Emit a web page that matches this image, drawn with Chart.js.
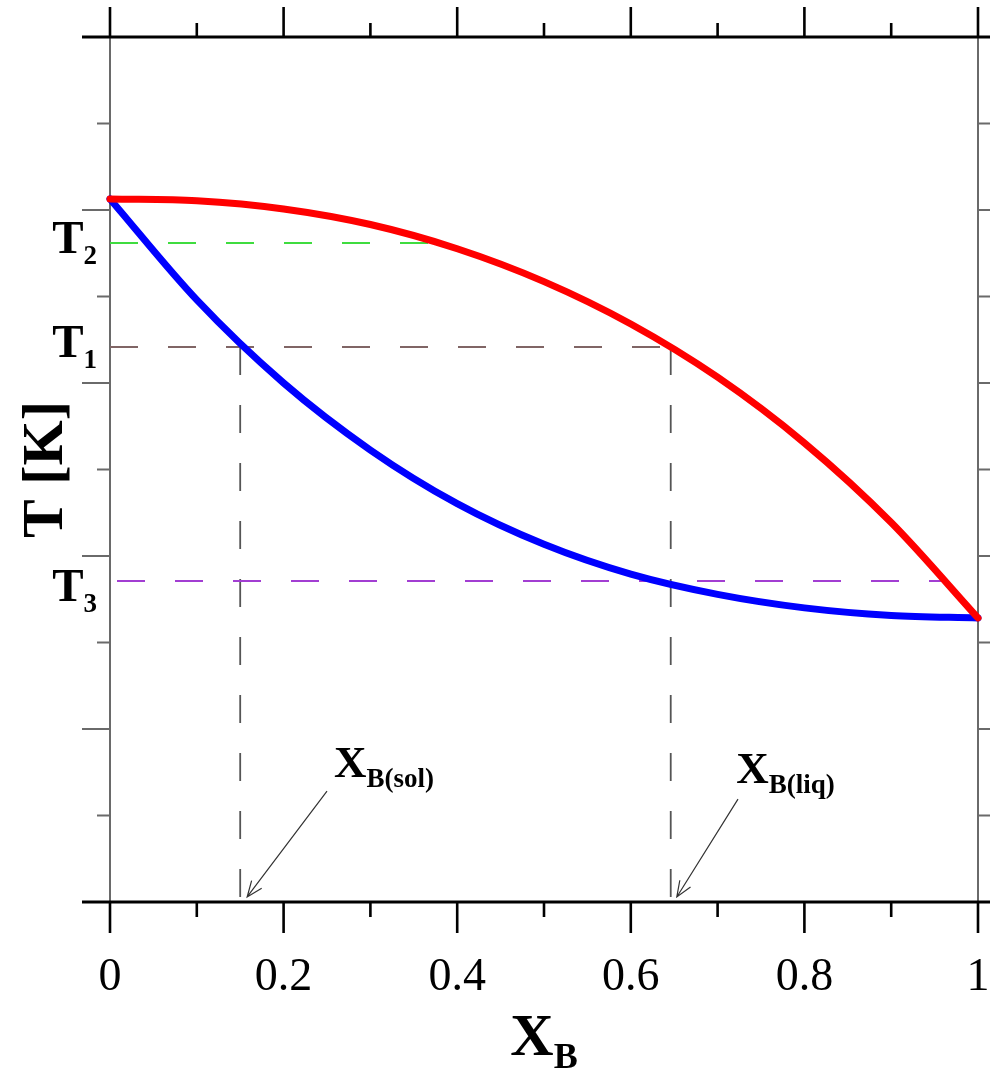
<!DOCTYPE html>
<html lang="en">
<head>
    <meta charset="UTF-8">
    <title>Phase diagram A-B</title>
    <script src="https://cdn.jsdelivr.net/npm/chart.js@4.4.0/dist/chart.umd.min.js"></script>
    <style>
        body { margin: 0; background: #fff; }
        canvas { display: block; }
    </style>
</head>
<body>

<canvas id="phaseChart" width="990" height="1074"></canvas>

<script>

    // composition axis (mole fraction of B)
    let compositions = [0, 0.1, 0.2, 0.3, 0.4, 0.5, 0.6, 0.7, 0.8, 0.9, 1];

    // liquidus (upper curve) and solidus (lower curve), temperature in axis units 0-10
    let liquidus = [8.127, 8.107, 8.012, 7.832, 7.552, 7.172, 6.682, 6.067, 5.307, 4.387, 3.283];
    let solidus  = [8.127, 6.960, 6.000, 5.225, 4.605, 4.135, 3.790, 3.556, 3.400, 3.312, 3.283];

    // isotherms T2, T1, T3 and where each one stops
    let isothermNames  = ['2', '1', '3'];
    let isothermLevels = [7.618, 6.416, 3.711];
    let isothermEnds   = [0.372, 0.646, 0.965];

    // compositions read on the T1 tie line
    let xSolid = 0.15;
    let xLiquid = 0.646;

    // axis ticks
    let xMajorTicks = [0, 0.2, 0.4, 0.6, 0.8, 1];
    let xTickLabels = ['0', '0.2', '0.4', '0.6', '0.8', '1'];
    let xMinorTicks = [0.1, 0.3, 0.5, 0.7, 0.9];
    let yMajorTicks = [0, 2, 4, 6, 8, 10];
    let yMinorTicks = [1, 3, 5, 7, 9];


    let serif = '"Liberation Serif", "Times New Roman", serif';
    let isothermColors = ['#3fdc3f', '#806565', '#a23ed2'];

    let toPoints = (xs, ys) => xs.map((x, i) => ({x: x, y: ys[i]}));

    // text with a subscript, left edge at x
    function drawSub(ctx, main, sub, x, baseline, mainFont, subFont, drop) {
        ctx.font = mainFont;
        ctx.fillText(main, x, baseline);
        let w = ctx.measureText(main).width;
        ctx.font = subFont;
        ctx.fillText(sub, x + w, baseline + drop);
    }

    function subWidth(ctx, main, sub, mainFont, subFont) {
        ctx.font = mainFont;
        let w = ctx.measureText(main).width;
        ctx.font = subFont;
        return w + ctx.measureText(sub).width;
    }

    function drawArrow(ctx, x1, y1, x2, y2) {
        let angle = Math.atan2(y2 - y1, x2 - x1);
        let head = 17, spread = 0.38;
        ctx.beginPath();
        ctx.moveTo(x1, y1);
        ctx.lineTo(x2, y2);
        ctx.moveTo(x2 - head * Math.cos(angle - spread), y2 - head * Math.sin(angle - spread));
        ctx.lineTo(x2, y2);
        ctx.lineTo(x2 - head * Math.cos(angle + spread), y2 - head * Math.sin(angle + spread));
        ctx.stroke();
    }

    // frame, ticks and tick labels
    let frame = {
        id: 'frame',
        beforeDatasetsDraw(chart) {
            let ctx = chart.ctx;
            let a = chart.chartArea;
            let sx = chart.scales.x, sy = chart.scales.y;
            ctx.save();
            ctx.lineCap = 'butt';

            // left / right borders, thin grey
            ctx.strokeStyle = '#6a6a6a';
            ctx.lineWidth = 2;
            ctx.beginPath();
            ctx.moveTo(a.left, a.top); ctx.lineTo(a.left, a.bottom);
            ctx.moveTo(a.right, a.top); ctx.lineTo(a.right, a.bottom);
            yMajorTicks.forEach(v => {
                let y = sy.getPixelForValue(v);
                ctx.moveTo(a.left - 28, y); ctx.lineTo(a.left, y);
                ctx.moveTo(a.right, y); ctx.lineTo(a.right + 28, y);
            });
            yMinorTicks.forEach(v => {
                let y = sy.getPixelForValue(v);
                ctx.moveTo(a.left - 13, y); ctx.lineTo(a.left, y);
                ctx.moveTo(a.right, y); ctx.lineTo(a.right + 13, y);
            });
            ctx.stroke();

            // top / bottom borders, thick black
            ctx.strokeStyle = '#000';
            ctx.lineWidth = 3;
            ctx.beginPath();
            ctx.moveTo(a.left - 28, a.top); ctx.lineTo(chart.width, a.top);
            ctx.moveTo(a.left - 28, a.bottom); ctx.lineTo(chart.width, a.bottom);
            ctx.stroke();
            ctx.lineWidth = 2.6;
            ctx.beginPath();
            xMajorTicks.forEach(v => {
                let x = sx.getPixelForValue(v);
                ctx.moveTo(x, a.top); ctx.lineTo(x, a.top - 30);
                ctx.moveTo(x, a.bottom); ctx.lineTo(x, a.bottom + 31);
            });
            xMinorTicks.forEach(v => {
                let x = sx.getPixelForValue(v);
                ctx.moveTo(x, a.top); ctx.lineTo(x, a.top - 14);
                ctx.moveTo(x, a.bottom); ctx.lineTo(x, a.bottom + 15);
            });
            ctx.stroke();

            // x tick labels
            ctx.fillStyle = '#000';
            ctx.font = '46px ' + serif;
            ctx.textAlign = 'center';
            ctx.textBaseline = 'alphabetic';
            xMajorTicks.forEach((v, i) => {
                ctx.fillText(xTickLabels[i], sx.getPixelForValue(v), a.bottom + 88);
            });
            ctx.restore();
        },

        afterDatasetsDraw(chart) {
            let ctx = chart.ctx;
            let a = chart.chartArea;
            let sx = chart.scales.x, sy = chart.scales.y;
            ctx.save();
            ctx.fillStyle = '#000';
            ctx.textAlign = 'left';
            ctx.textBaseline = 'alphabetic';

            // axis titles
            let bigBold = 'bold 60px ' + serif;
            let subBold = 'bold 36px ' + serif;
            let w = subWidth(ctx, 'X', 'B', bigBold, subBold);
            drawSub(ctx, 'X', 'B', (a.left + a.right) / 2 - w / 2, a.bottom + 153, bigBold, subBold, 13);

            ctx.save();
            ctx.translate(a.left - 48, (a.top + a.bottom) / 2);
            ctx.rotate(-Math.PI / 2);
            ctx.textAlign = 'center';
            ctx.font = 'bold 58px ' + serif;
            ctx.fillText('T [K]', 0, 0);
            ctx.restore();

            // isotherm labels T1, T2, T3
            let tFont = 'bold 47px ' + serif;
            let tSub = 'bold 27px ' + serif;
            let labelDrop = [10, 10, 20];
            isothermLevels.forEach((lvl, i) => {
                let y = sy.getPixelForValue(lvl) + labelDrop[i];
                let tw = subWidth(ctx, 'T', isothermNames[i], tFont, tSub);
                drawSub(ctx, 'T', isothermNames[i], a.left - 13 - tw, y, tFont, tSub, 11);
            });

            // composition callouts with arrows
            let xFont = 'bold 45px ' + serif;
            let xSub = 'bold 27px ' + serif;
            drawSub(ctx, 'X', 'B(sol)', sx.getPixelForValue(0.258), sy.getPixelForValue(1.445), xFont, xSub, 10);
            drawSub(ctx, 'X', 'B(liq)', sx.getPixelForValue(0.7215), sy.getPixelForValue(1.376), xFont, xSub, 10);

            ctx.strokeStyle = '#333';
            ctx.lineWidth = 1.2;
            drawArrow(ctx, sx.getPixelForValue(0.25), sy.getPixelForValue(1.283),
                           sx.getPixelForValue(0.158), sy.getPixelForValue(0.058));
            drawArrow(ctx, sx.getPixelForValue(0.7235), sy.getPixelForValue(1.19),
                           sx.getPixelForValue(0.653), sy.getPixelForValue(0.058));
            ctx.restore();
        }
    };


    let datasets = [
        {
            label: 'liquidus',
            data: toPoints(compositions, liquidus),
            borderColor: '#ff0000',
            borderWidth: 7,
            borderCapStyle: 'round',
            cubicInterpolationMode: 'monotone',
            order: 0
        },
        {
            label: 'solidus',
            data: toPoints(compositions, solidus),
            borderColor: '#0000ff',
            borderWidth: 7,
            borderCapStyle: 'round',
            cubicInterpolationMode: 'monotone',
            order: 1
        }
    ];

    isothermLevels.forEach((lvl, i) => {
        datasets.push({
            label: 'T' + isothermNames[i],
            data: [{x: 0, y: lvl}, {x: isothermEnds[i], y: lvl}],
            borderColor: isothermColors[i],
            borderWidth: 2,
            borderDash: [28, 30],
            borderDashOffset: i === 2 ? 51 : 0,
            order: 3
        });
    });

    [xSolid, xLiquid].forEach(xc => {
        datasets.push({
            label: 'x ' + xc,
            data: [{x: xc, y: isothermLevels[1]}, {x: xc, y: 0}],
            borderColor: '#555555',
            borderWidth: 1.8,
            borderDash: [28, 30],
            order: 3
        });
    });

    datasets.forEach(d => {
        d.showLine = true;
        d.fill = false;
        d.pointRadius = 0;
        d.clip = false;
    });

    let content = document.querySelector('#phaseChart').getContext('2d');
    let myChart = new Chart(content, {
        type: 'scatter',
        data: { datasets: datasets },
        options: {
            responsive: false,
            animation: false,
            devicePixelRatio: 1,
            layout: { padding: { left: 110, top: 37, right: 12, bottom: 172 } },
            plugins: {
                legend: { display: false },
                tooltip: { enabled: false }
            },
            scales: {
                x: { type: 'linear', min: 0, max: 1, display: false },
                y: { type: 'linear', min: 0, max: 10, display: false }
            }
        },
        plugins: [frame]
    });

</script>
</body>
</html>
